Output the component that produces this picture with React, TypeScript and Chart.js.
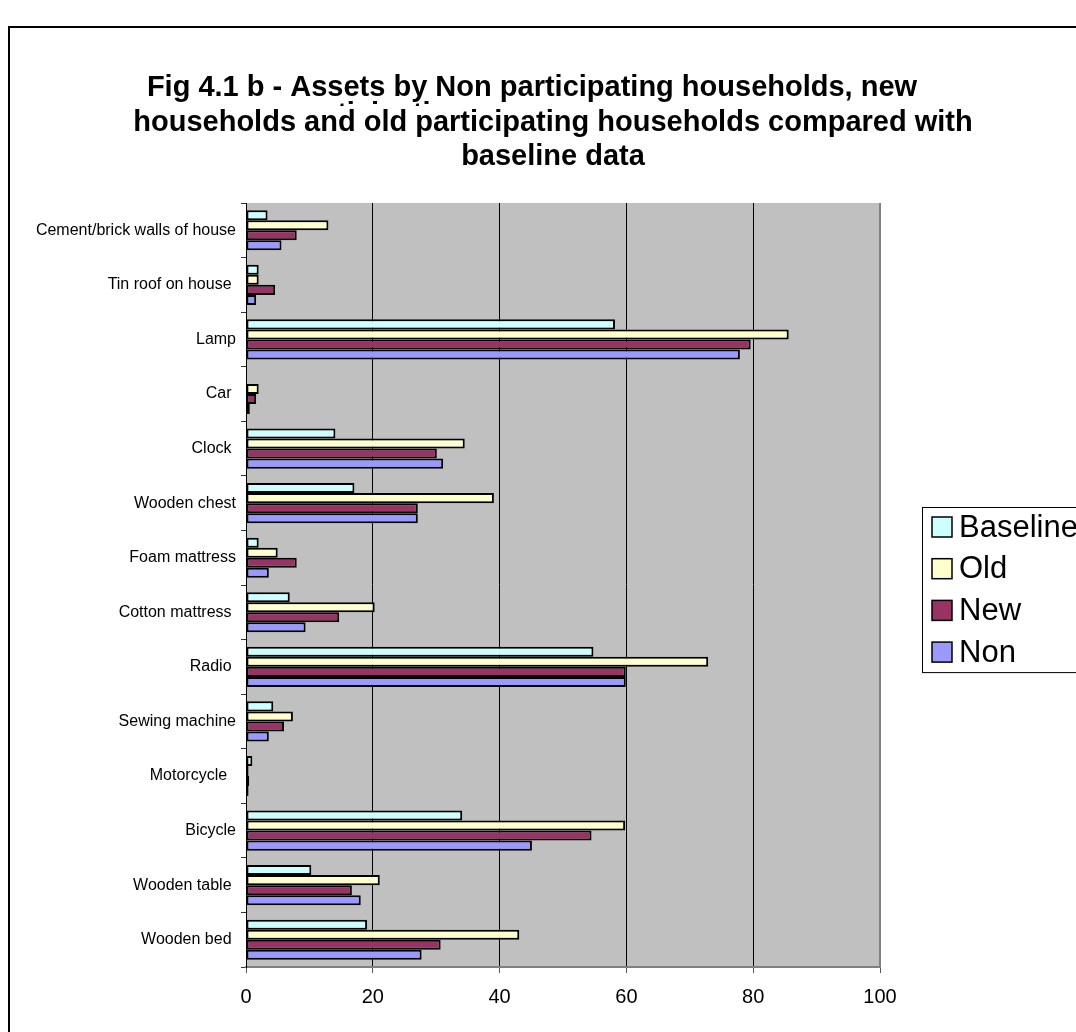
import React, { useEffect, useRef } from "react";
import { Chart, registerables } from "chart.js";

Chart.register(...registerables);

// ---- data ----
const CATEGORIES = [
  "Cement/brick walls of house",
  "Tin roof on house ",
  "Lamp",
  "Car ",
  "Clock ",
  "Wooden chest",
  "Foam mattress",
  "Cotton mattress ",
  "Radio ",
  "Sewing machine",
  "Motorcycle  ",
  "Bicycle",
  "Wooden table ",
  "Wooden bed ",
];
const BASELINE = [3.4, 2.0, 58.2, 0, 14.1, 17.1, 2.0, 6.9, 54.8, 4.3, 1.0, 34.1, 10.3, 19.1];
const OLD = [13.0, 2.0, 85.6, 2.0, 34.5, 39.1, 5.0, 20.3, 72.9, 7.4, 0.4, 59.8, 21.1, 43.1];
const NEW = [8.0, 4.6, 79.6, 1.6, 30.1, 27.1, 8.0, 14.7, 59.9, 6.0, 0.5, 54.5, 16.7, 30.7];
const NON = [5.6, 1.6, 77.9, 0.6, 31.1, 27.1, 3.6, 9.4, 59.9, 3.6, 0.4, 45.1, 18.1, 27.7];
const SERIES_NAMES = ["Baseline", "Old", "New", "Non"];
const X_MIN = 0;
const X_MAX = 100;
const X_STEP = 20;
const TITLE_LINES = [
  "Fig 4.1 b - Assets by Non participating households, new",
  "households and old participating households compared with",
  "baseline data",
];
const TITLE_HIDDEN_WORD = "participating";

// ---- styling ----
const COLORS = ["#CCFFFF", "#FFFFCC", "#993366", "#9999FF"];
const W = 1076;
const H = 1032;
const FONT = "'Liberation Sans', Arial, sans-serif";

export default function App() {
  const ref = useRef<HTMLCanvasElement>(null);

  useEffect(() => {
    const canvas = ref.current;
    if (!canvas) return;

    const decor = {
      id: "decor",
      beforeDraw(chart: any) {
        const ctx = chart.ctx;
        const a = chart.chartArea;
        ctx.save();
        ctx.fillStyle = "#ffffff";
        ctx.fillRect(0, 0, chart.width, chart.height);
        ctx.fillStyle = "#C0C0C0";
        ctx.fillRect(a.left, a.top, a.right - a.left, a.bottom - a.top);
        ctx.restore();
      },
      afterDraw(chart: any) {
        const ctx = chart.ctx;
        const a = chart.chartArea;
        ctx.save();
        // outer frame
        ctx.strokeStyle = "#000";
        ctx.lineWidth = 2;
        ctx.strokeRect(9, 27, chart.width + 40, chart.height + 40);
        // plot right border
        ctx.strokeStyle = "#808080";
        ctx.lineWidth = 2;
        ctx.beginPath();
        ctx.moveTo(a.right, a.top);
        ctx.lineTo(a.right, a.bottom);
        ctx.stroke();
        // partly hidden wrapped word of the title (only its top shows)
        ctx.fillStyle = "#000";
        ctx.font = `bold 29px ${FONT}`;
        ctx.save();
        ctx.beginPath();
        ctx.rect(0, 100, chart.width, 6);
        ctx.clip();
        ctx.textAlign = "left";
        ctx.textBaseline = "alphabetic";
        ctx.fillText(TITLE_HIDDEN_WORD, 292, 123);
        ctx.restore();
        // title
        ctx.textAlign = "center";
        ctx.textBaseline = "middle";
        const tx = [532, 553, 553];
        const ty = [88, 123, 157];
        TITLE_LINES.forEach((t, i) => ctx.fillText(t, tx[i], ty[i]));
        // legend
        const lx = 922;
        const ly0 = 527;
        const step = 41.7;
        const n = chart.data.datasets.length;
        ctx.strokeStyle = "#000";
        ctx.lineWidth = 1;
        ctx.strokeRect(lx + 0.5, ly0 - 20 + 0.5, chart.width, (n - 1) * step + 40);
        ctx.font = `31px ${FONT}`;
        ctx.textAlign = "left";
        ctx.textBaseline = "middle";
        chart.data.datasets.forEach((ds: any, i: number) => {
          const cy = ly0 + i * step;
          ctx.fillStyle = ds.backgroundColor;
          ctx.fillRect(lx + 10, cy - 10, 20, 20);
          ctx.lineWidth = 1.5;
          ctx.strokeStyle = "#000";
          ctx.strokeRect(lx + 10, cy - 10, 20, 20);
          ctx.fillStyle = "#000";
          ctx.fillText(ds.label, lx + 37, cy + 1);
        });
        ctx.restore();
      },
    };

    const series = [BASELINE, OLD, NEW, NON];
    const chart = new Chart(canvas, {
      type: "bar",
      data: {
        labels: CATEGORIES,
        datasets: series.map((d, i) => ({
          label: SERIES_NAMES[i],
          data: d,
          backgroundColor: COLORS[i],
          borderColor: "#000",
          borderWidth: 2,
          borderSkipped: false,
          categoryPercentage: 0.735,
          barPercentage: 1,
        })),
      },
      options: {
        indexAxis: "y",
        responsive: false,
        animation: false,
        devicePixelRatio: 1,
        layout: { padding: { top: 203, right: W - 880, bottom: 0, left: 0 } },
        plugins: {
          legend: { display: false },
          title: { display: false },
          tooltip: { enabled: false },
        },
        scales: {
          x: {
            type: "linear",
            min: X_MIN,
            max: X_MAX,
            ticks: {
              stepSize: X_STEP,
              color: "#000",
              font: { family: FONT, size: 20 },
              padding: 12,
              maxRotation: 0,
            },
            grid: { color: "#000", lineWidth: 1, tickLength: 6, tickColor: "#555" },
            border: { display: true, color: "#808080", width: 2 },
            afterFit(s: any) {
              s.height = H - 967;
            },
          },
          y: {
            type: "category",
            ticks: {
              color: "#000",
              font: { family: FONT, size: 16 },
              padding: 5,
              autoSkip: false,
            },
            grid: { drawOnChartArea: false, tickLength: 5, color: "#333", offset: true },
            border: { display: true, color: "#000", width: 1 },
            afterFit(s: any) {
              s.width = 246;
            },
          },
        },
      },
      plugins: [decor],
    });

    return () => chart.destroy();
  }, []);

  return (
    <div
      style={{
        position: "fixed",
        left: 0,
        top: 0,
        width: W,
        height: H,
        overflow: "hidden",
        background: "#fff",
      }}
    >
      <canvas ref={ref} width={W} height={H} style={{ display: "block", width: W, height: H }} />
    </div>
  );
}
